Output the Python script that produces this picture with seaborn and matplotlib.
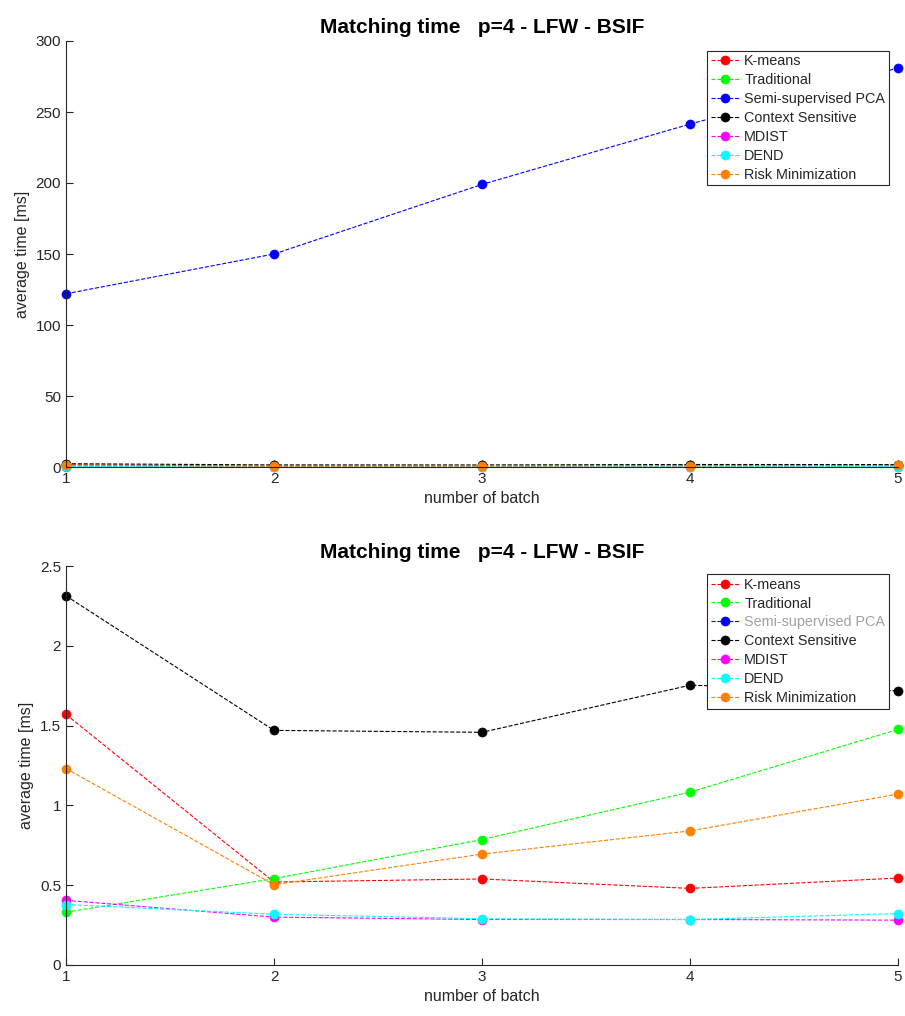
import matplotlib
matplotlib.use("Agg")
import matplotlib.pyplot as plt
import seaborn as sns
import pandas as pd

batches = [1, 2, 3, 4, 5]
methods = ["K-means", "Traditional", "Semi-supervised PCA", "Context Sensitive",
           "MDIST", "DEND", "Risk Minimization"]
colors = ["#ff0000", "#00ff00", "#0000ff", "#000000", "#ff00ff", "#00ffff", "#ff8000"]

kmeans = [1.57, 0.52, 0.539, 0.48, 0.545]
traditional = [0.331, 0.541, 0.786, 1.083, 1.476]
sspca = [122, 150, 199, 241.5, 281]
context = [2.313, 1.47, 1.458, 1.753, 1.718]
mdist = [0.405, 0.30, 0.285, 0.285, 0.281]
dend = [0.379, 0.318, 0.29, 0.285, 0.322]
risk = [1.231, 0.503, 0.695, 0.840, 1.071]

series = [kmeans, traditional, sspca, context, mdist, dend, risk]

rows = []
for m, vals in zip(methods, series):
    for b, v in zip(batches, vals):
        rows.append({"method": m, "batch": b, "time": v})
df = pd.DataFrame(rows)

sns.set_theme(style="white")
plt.rcParams["font.family"] = ["Liberation Sans", "DejaVu Sans"]

fig = plt.figure(figsize=(9.05, 10.16), dpi=100)
ax1 = fig.add_axes([66 / 905, 1 - 467 / 1016, 832 / 905, 426 / 1016])
ax2 = fig.add_axes([66 / 905, 1 - 965 / 1016, 832 / 905, 399 / 1016])

axis_col = "#262626"

def draw(ax, ylim, yticks, legend_anchor, grey_sspca, clip_series):
    for m, c in zip(methods, colors):
        sub = df[df["method"] == m]
        sns.lineplot(data=sub, x="batch", y="time", ax=ax, color=c, marker="o",
                     linestyle="--", linewidth=0.8, markersize=6.5,
                     markeredgecolor=c, markeredgewidth=0.5, label=m,
                     errorbar=None, clip_on=(m in clip_series))
    ax.set_xlim(1, 5)
    ax.set_ylim(*ylim)
    ax.set_xticks(batches)
    ax.set_yticks(yticks)
    ax.set_yticklabels([f"{t:g}" for t in yticks])
    for s in ["top", "right"]:
        ax.spines[s].set_visible(False)
    for s in ["left", "bottom"]:
        ax.spines[s].set_color(axis_col)
        ax.spines[s].set_linewidth(0.8)
    ax.tick_params(axis="both", direction="in", length=5, width=0.8,
                   colors=axis_col, labelsize=11, left=True, bottom=True)
    ax.set_xlabel("number of batch", fontsize=11.5, color=axis_col, labelpad=4)
    ax.set_ylabel("average time [ms]", fontsize=11.5, color=axis_col, labelpad=4)
    ax.set_title("Matching time   p=4 - LFW - BSIF", fontsize=15, fontweight="bold",
                 color="black", pad=6)
    leg = ax.legend(loc="upper right", bbox_to_anchor=legend_anchor, fontsize=10.4,
                    frameon=True, fancybox=False, edgecolor=axis_col, framealpha=1,
                    labelspacing=0.34, handlelength=2.0, handletextpad=0.3,
                    borderpad=0.25, borderaxespad=0)
    leg.get_frame().set_linewidth(0.8)
    leg.set_zorder(10)
    if grey_sspca:
        for t in leg.get_texts():
            if t.get_text() == "Semi-supervised PCA":
                t.set_color("#a0a0a0")

draw(ax1, (0, 300), [0, 50, 100, 150, 200, 250, 300], (0.989, 0.977), False, [])
draw(ax2, (0, 2.5), [0, 0.5, 1, 1.5, 2, 2.5], (0.989, 0.980), True,
     ["Semi-supervised PCA"])

fig.savefig("out.png", dpi=100)
